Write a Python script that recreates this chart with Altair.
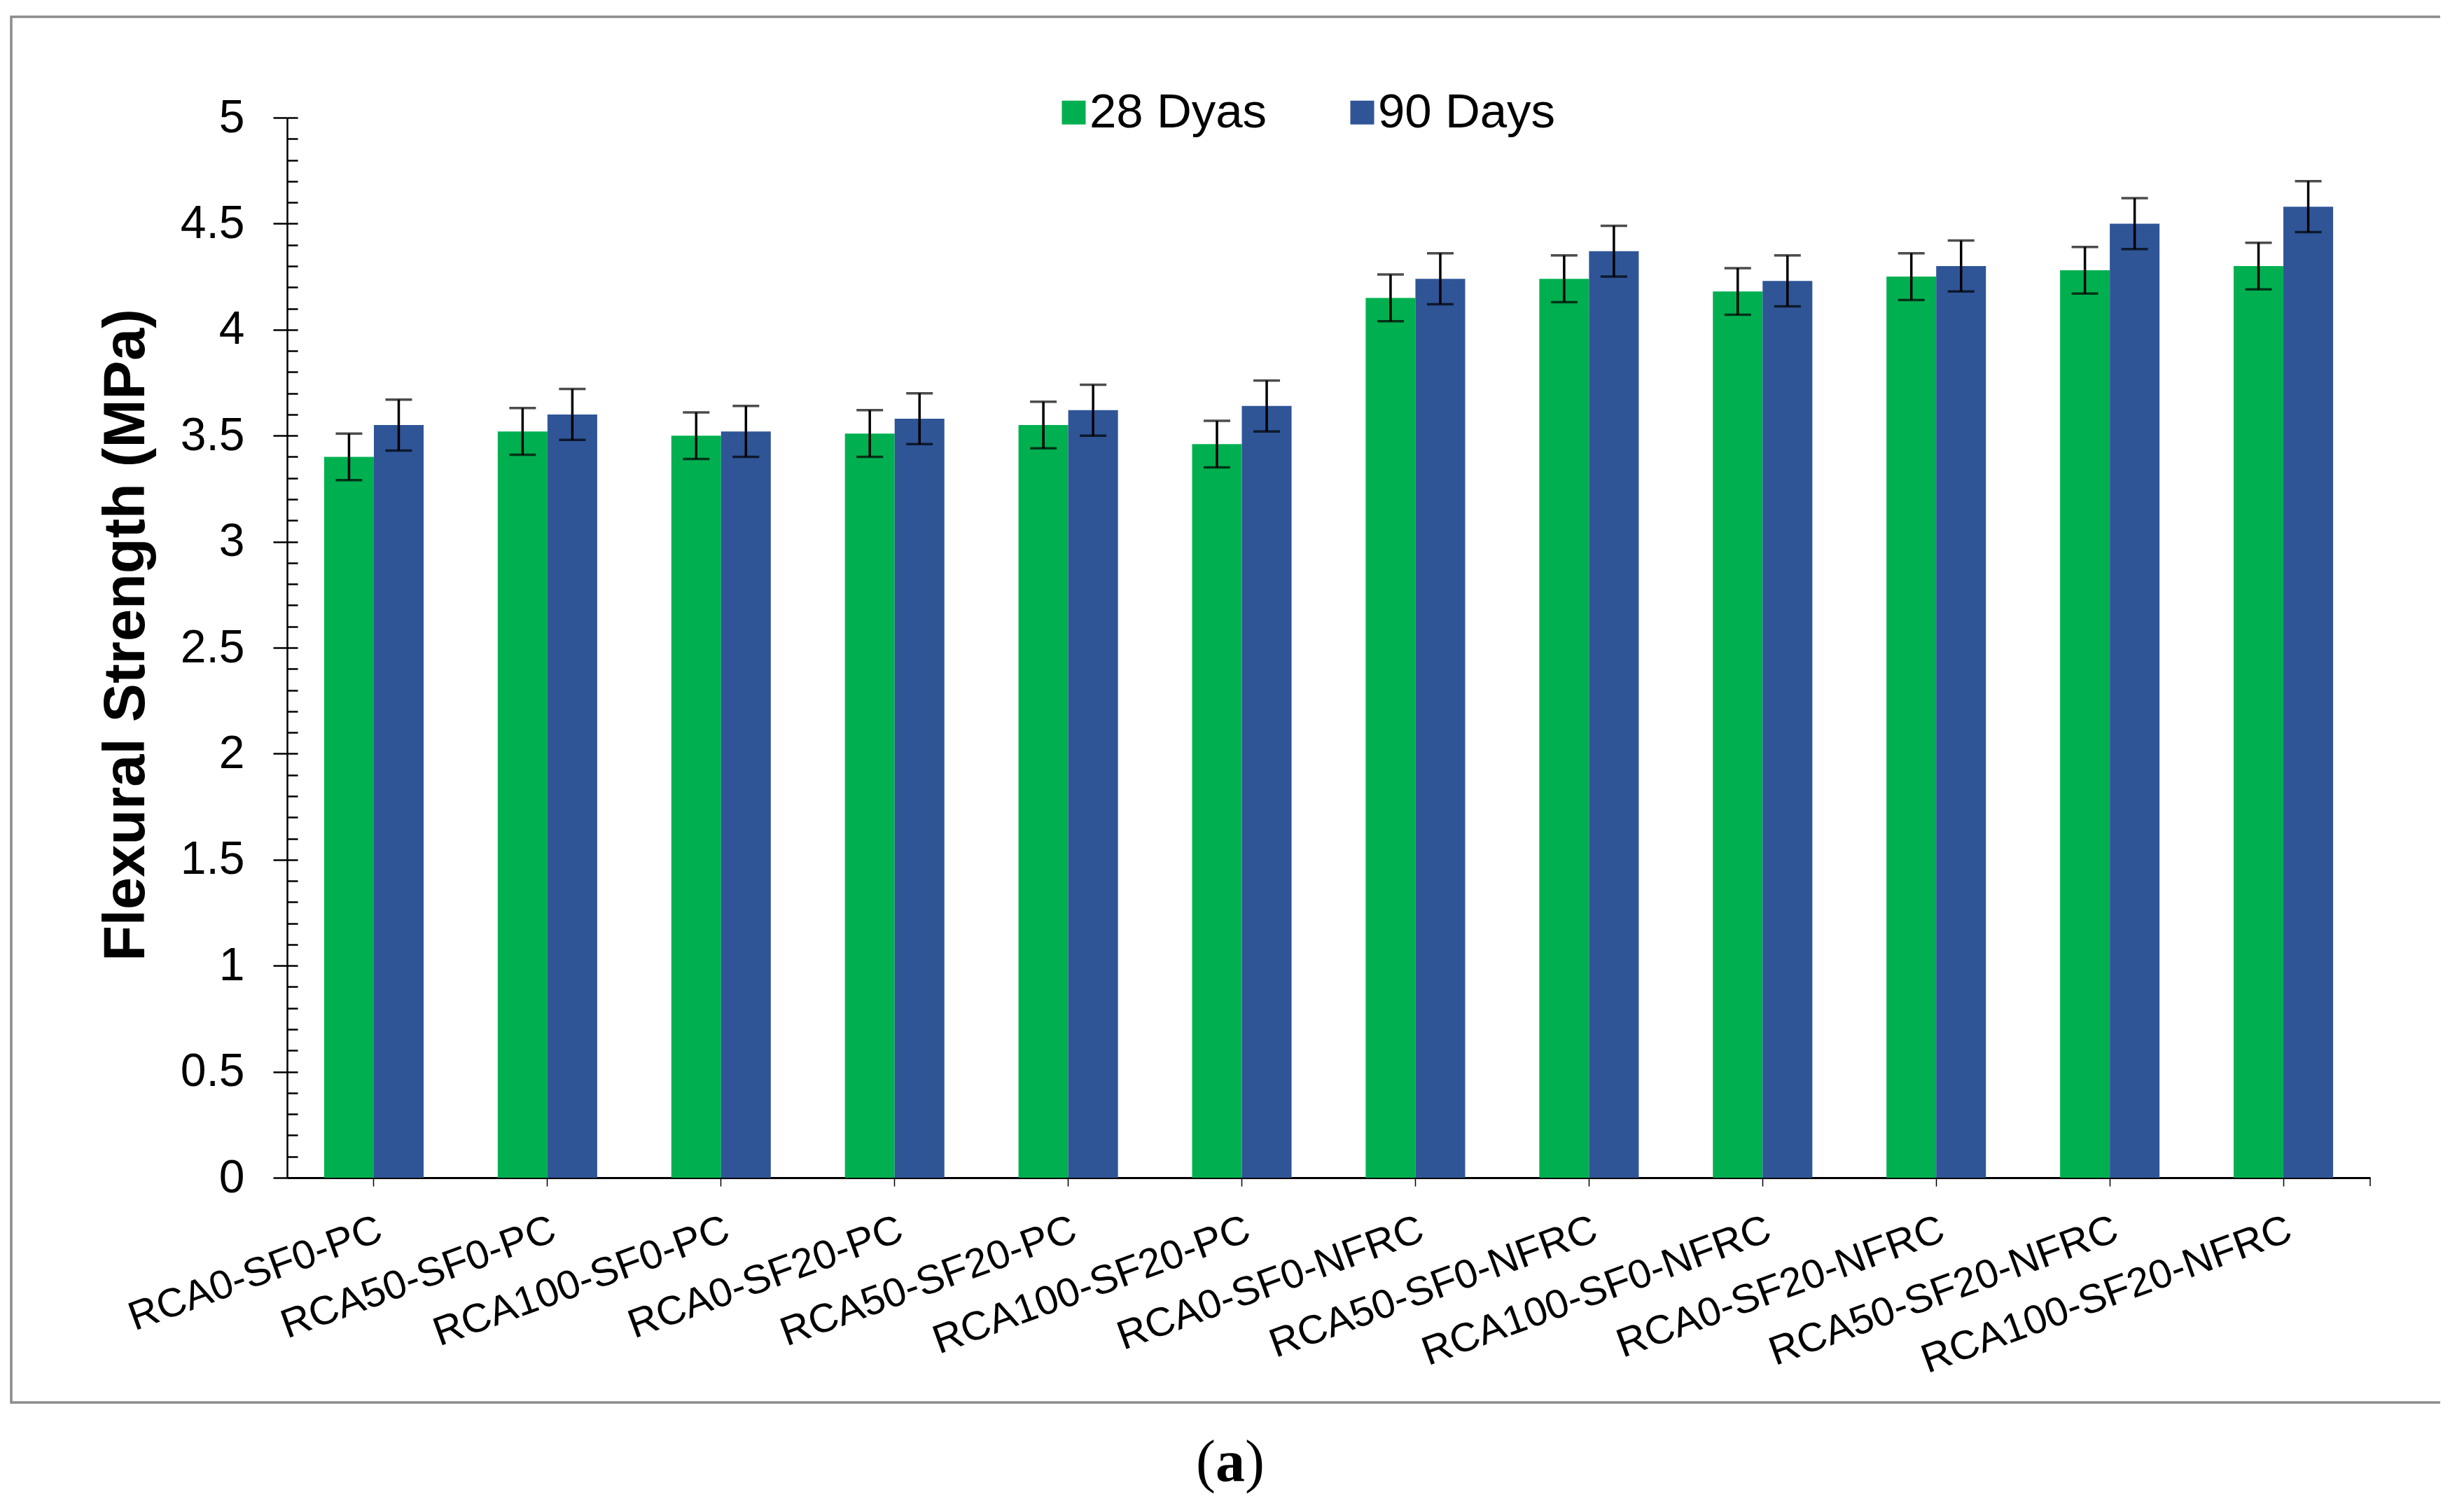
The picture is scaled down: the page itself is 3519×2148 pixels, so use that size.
import altair as alt
import pandas as pd

categories = ["RCA0-SF0-PC", "RCA50-SF0-PC", "RCA100-SF0-PC", "RCA0-SF20-PC",
              "RCA50-SF20-PC", "RCA100-SF20-PC", "RCA0-SF0-NFRC", "RCA50-SF0-NFRC",
              "RCA100-SF0-NFRC", "RCA0-SF20-NFRC", "RCA50-SF20-NFRC", "RCA100-SF20-NFRC"]
series = ["28 Dyas", "90 Days"]
strength_28 = [3.40, 3.52, 3.50, 3.51, 3.55, 3.46, 4.15, 4.24, 4.18, 4.25, 4.28, 4.30]
strength_90 = [3.55, 3.60, 3.52, 3.58, 3.62, 3.64, 4.24, 4.37, 4.23, 4.30, 4.50, 4.58]
error_28 = [0.11, 0.11, 0.11, 0.11, 0.11, 0.11, 0.11, 0.11, 0.11, 0.11, 0.11, 0.11]
error_90 = [0.12, 0.12, 0.12, 0.12, 0.12, 0.12, 0.12, 0.12, 0.12, 0.12, 0.12, 0.12]
major_ticks = [0, 0.5, 1, 1.5, 2, 2.5, 3, 3.5, 4, 4.5, 5]
minor_ticks = [round(i * 0.1, 1) for i in range(51)]

rows = []
for c, v, e in zip(categories, strength_28, error_28):
    rows.append({"category": c, "series": series[0], "value": v, "err": e})
for c, v, e in zip(categories, strength_90, error_90):
    rows.append({"category": c, "series": series[1], "value": v, "err": e})
df = pd.DataFrame(rows)
one = pd.DataFrame({"k": [0]})

W, H = 2975, 1514
FONT = "Liberation Sans"

x_enc = alt.X("category:N", sort=categories,
              scale=alt.Scale(paddingInner=0.427, paddingOuter=0.2135),
              axis=alt.Axis(title=None, labelAngle=-20, labelAlign="right", labelBaseline="top",
                            labelFontSize=58, labelFont=FONT, labelColor="black",
                            labelPadding=33, labelLimit=3000, labelOverlap=False,
                            tickSize=12, tickWidth=1.5, tickColor="black",
                            domainColor="black", domainWidth=3, grid=False))
xoff_enc = alt.XOffset("series:N", sort=series, scale=alt.Scale(paddingInner=0, paddingOuter=0))
y_scale = alt.Scale(domain=[0, 5], nice=False, zero=True)

bars = alt.Chart(df).mark_bar().encode(
    x=x_enc,
    xOffset=xoff_enc,
    y=alt.Y("value:Q", scale=y_scale,
            axis=alt.Axis(orient="left", values=major_ticks, format=".1~f",
                          tickSize=20, tickWidth=2.5, tickColor="black",
                          domainColor="black", domainWidth=2.5,
                          labelFontSize=66, labelFont=FONT, labelColor="black", labelPadding=41,
                          title="Flexural Strength (MPa)", titleFontSize=83, titleFont=FONT,
                          titleFontWeight="bold", titleColor="black", titleX=-205, titleY=738.5,
                          titleAngle=270, titleBaseline="alphabetic", titleAlign="center",
                          grid=False)),
    color=alt.Color("series:N", sort=series,
                    scale=alt.Scale(domain=series, range=["#00B050", "#2F5597"]),
                    legend=alt.Legend(title=None, orient="none", legendX=1089, legendY=-42,
                                      direction="horizontal", symbolType="square",
                                      symbolSize=1156, symbolStrokeWidth=0,
                                      labelFontSize=69, labelFont=FONT, labelColor="black",
                                      labelLimit=2000, labelOffset={"expr": "-12"},
                                      columnPadding=101)),
)

err_base = alt.Chart(df).transform_calculate(
    lo="datum.value - datum.err", hi="datum.value + datum.err")

err_rule = err_base.mark_rule(color="black", strokeWidth=3.5).encode(
    x=x_enc, xOffset=xoff_enc,
    y=alt.Y("lo:Q", scale=y_scale,
            axis=alt.Axis(orient="right", offset=-W, values=minor_ticks, labels=False,
                          domain=False, tickSize=15, tickWidth=2.5, tickColor="black",
                          grid=False, title=None)),
    y2="hi:Q",
)
cap_lo = err_base.mark_tick(color="black", thickness=3.5, size=38).encode(
    x=x_enc, xOffset=xoff_enc, y=alt.Y("lo:Q", scale=y_scale, axis=None))
cap_hi = err_base.mark_tick(color="black", thickness=3.5, size=38).encode(
    x=x_enc, xOffset=xoff_enc, y=alt.Y("hi:Q", scale=y_scale, axis=None))

end_tick = alt.Chart(one).mark_rule(color="black", strokeWidth=1.5).encode(
    x=alt.value(W), y=alt.value(H), y2=alt.value(H + 12))

frame = alt.Chart(one).mark_rect(fillOpacity=0, stroke="#8c8c8c", strokeWidth=3.5).encode(
    x=alt.value(-394), x2=alt.value(3086), y=alt.value(-144), y2=alt.value(1835))

cap_l = alt.Chart(one).mark_text(text="(", font="Liberation Serif", fontSize=84, color="black",
                                 align="center", baseline="alphabetic").encode(
    x=alt.value(1312), y=alt.value(1947))
cap_a = alt.Chart(one).mark_text(text="a", font="Liberation Serif", fontSize=84, fontWeight="bold",
                                 color="black", align="center", baseline="alphabetic").encode(
    x=alt.value(1347), y=alt.value(1947))
cap_r = alt.Chart(one).mark_text(text=")", font="Liberation Serif", fontSize=84, color="black",
                                 align="center", baseline="alphabetic").encode(
    x=alt.value(1382), y=alt.value(1947))

chart = alt.layer(frame, bars, err_rule, cap_lo, cap_hi, end_tick, cap_l, cap_a, cap_r).resolve_axis(
    y="independent"
).properties(
    width=W, height=H,
    padding={"left": 402, "top": 160, "right": 100, "bottom": 455},
    autosize=alt.AutoSizeParams(type="none"),
    background="white",
).configure_view(stroke="transparent")

chart.save("out.html", embed_options={"renderer": "svg", "actions": False})
